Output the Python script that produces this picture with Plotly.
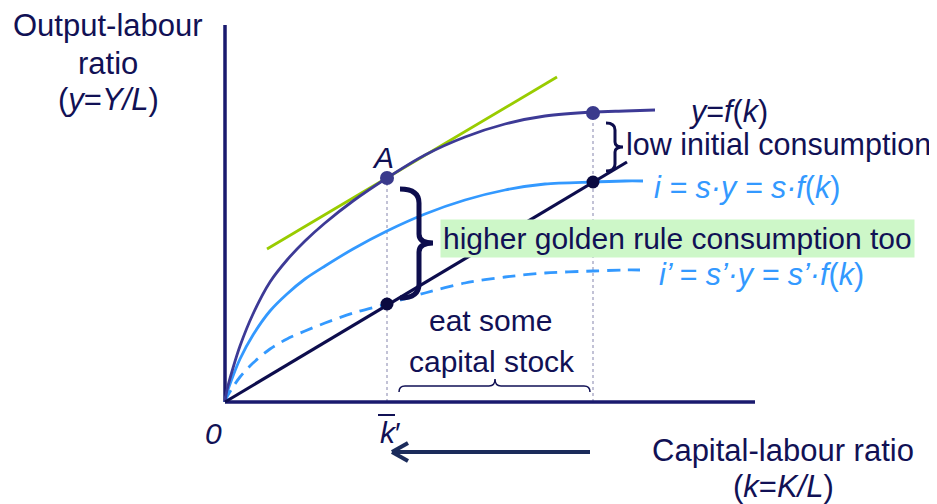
import plotly.graph_objects as go

# ---- data (k = capital-labour ratio, y = output-labour ratio) ----
f_k = [0, 0.02, 0.08, 0.15, 0.28, 0.45, 0.62, 0.80, 1.00, 1.28, 1.62, 2.00, 2.40, 2.80, 3.20, 3.68, 4.00, 4.30]
f_y = [0, 0.12, 0.34, 0.56, 0.88, 1.20, 1.42, 1.61, 1.79, 2.01, 2.24, 2.47, 2.65, 2.78, 2.86, 2.90, 2.91, 2.92]

i_k = [0, 0.02, 0.08, 0.15, 0.28, 0.45, 0.62, 0.80, 1.00, 1.28, 1.62, 2.00, 2.40, 2.80, 3.20, 3.68, 4.00, 4.18]
i_y = [0, 0.09, 0.26, 0.43, 0.67, 0.91, 1.08, 1.23, 1.36, 1.53, 1.71, 1.88, 2.02, 2.12, 2.18, 2.20, 2.21, 2.21]

ip_k = [0, 0.02, 0.08, 0.15, 0.28, 0.45, 0.62, 0.80, 1.00, 1.28, 1.62, 2.00, 2.40, 2.80, 3.20, 3.68, 4.00, 4.15]
ip_y = [0, 0.05, 0.15, 0.25, 0.39, 0.53, 0.63, 0.71, 0.79, 0.89, 0.98, 1.09, 1.19, 1.25, 1.29, 1.31, 1.32, 1.32]

dep_k = [0, 4.02]
dep_y = [0, 2.40]

tan_k = [0.42, 3.32]
tan_y = [1.53, 3.25]

pt_k = [1.62, 3.68]
pt_upper = [2.24, 2.89]
pt_lower = [0.98, 2.20]

axis_x_end = 5.30
axis_y_end = 3.77

NAVY = "#111155"
AXIS = "#1a1a6e"
PURPLE = "#3d3a96"
BLUE = "#3399ff"
DARK = "#0d0d4d"
GREEN = "#99cc00"
FONT = "Liberation Sans, Arial, sans-serif"

fig = go.Figure()

# dotted guide lines
for kk, yy in zip(pt_k, pt_upper):
    fig.add_trace(go.Scatter(x=[kk, kk], y=[0, yy], mode="lines",
                             line=dict(color="#9a9abb", width=1.2, dash="dot"),
                             hoverinfo="skip"))

# axes
fig.add_trace(go.Scatter(x=[0, 0], y=[axis_y_end, 0], mode="lines",
                         line=dict(color=AXIS, width=3.5), hoverinfo="skip"))
fig.add_trace(go.Scatter(x=[0, axis_x_end], y=[0, 0], mode="lines",
                         line=dict(color=AXIS, width=3.5), hoverinfo="skip"))

# curves
fig.add_trace(go.Scatter(x=tan_k, y=tan_y, mode="lines",
                         line=dict(color=GREEN, width=2.8)))
fig.add_trace(go.Scatter(x=ip_k, y=ip_y, mode="lines",
                         line=dict(color=BLUE, width=2.8, dash="13px,8px", shape="spline", smoothing=0.8)))
fig.add_trace(go.Scatter(x=i_k, y=i_y, mode="lines",
                         line=dict(color=BLUE, width=2.8, shape="spline", smoothing=0.8)))
fig.add_trace(go.Scatter(x=f_k, y=f_y, mode="lines",
                         line=dict(color=PURPLE, width=2.8, shape="spline", smoothing=0.8)))
fig.add_trace(go.Scatter(x=dep_k, y=dep_y, mode="lines",
                         line=dict(color=DARK, width=3.2)))

# points
fig.add_trace(go.Scatter(x=pt_k, y=pt_upper, mode="markers",
                         marker=dict(color="#3a3a8c", size=14)))
fig.add_trace(go.Scatter(x=pt_k, y=pt_lower, mode="markers",
                         marker=dict(color="#0a0a40", size=13)))
# small red speck
fig.add_trace(go.Scatter(x=[4.26], y=[1.59], mode="markers",
                         marker=dict(color="#e03030", size=4)))

shapes = []
# big vertical brace
a, xm, b = 1.75, 1.94, 2.08
T, M, B = 2.13, 1.59, 1.04
shapes.append(dict(type="path", xref="x", yref="y",
                   path=(f"M {a},{T} Q {xm},{T} {xm},{T-0.14} L {xm},{M+0.09} "
                         f"Q {xm},{M} {b},{M} Q {xm},{M} {xm},{M-0.09} "
                         f"L {xm},{B+0.14} Q {xm},{B} {a},{B}"),
                   line=dict(color=DARK, width=5)))
# small vertical brace
a, xm, b = 3.81, 3.90, 3.98
T, M, B = 2.79, 2.55, 2.31
shapes.append(dict(type="path", xref="x", yref="y",
                   path=(f"M {a},{T} Q {xm},{T} {xm},{T-0.07} L {xm},{M+0.05} "
                         f"Q {xm},{M} {b},{M} Q {xm},{M} {xm},{M-0.05} "
                         f"L {xm},{B+0.07} Q {xm},{B} {a},{B}"),
                   line=dict(color=DARK, width=3)))
# horizontal brace under "capital stock"
l, r, c = 1.74, 3.65, 2.70
yl, yb, yt = 0.16, 0.10, 0.23
shapes.append(dict(type="path", xref="x", yref="y",
                   path=(f"M {l},{yb} Q {l},{yl} {l+0.06},{yl} L {c-0.06},{yl} "
                         f"Q {c},{yl} {c},{yt} Q {c},{yl} {c+0.06},{yl} "
                         f"L {r-0.06},{yl} Q {r},{yl} {r},{yb}"),
                   line=dict(color=NAVY, width=1.5)))
# bar over k'
shapes.append(dict(type="line", xref="x", yref="y", x0=1.53, x1=1.70, y0=-0.13, y1=-0.13,
                   line=dict(color=NAVY, width=2)))
# arrow (leftward)
ARROW = "#1b2b5b"
shapes.append(dict(type="line", xref="x", yref="y", x0=3.65, x1=1.69, y0=-0.50, y1=-0.50,
                   line=dict(color=ARROW, width=4)))
shapes.append(dict(type="line", xref="x", yref="y", x0=1.67, x1=1.83, y0=-0.50, y1=-0.41,
                   line=dict(color=ARROW, width=4)))
shapes.append(dict(type="line", xref="x", yref="y", x0=1.67, x1=1.83, y0=-0.50, y1=-0.59,
                   line=dict(color=ARROW, width=4)))

ann = []
def txt(x, y, s, color=NAVY, size=31, xanchor="center", **kw):
    ann.append(dict(x=x, y=y, xref="x", yref="y", text=s, showarrow=False,
                    xanchor=xanchor, yanchor="middle",
                    font=dict(family=FONT, size=size, color=color), **kw))

# y-axis title (three lines)
txt(-1.17, 3.765, "Output-labour")
txt(-1.17, 3.385, "ratio")
txt(-1.17, 3.025, "(<i>y</i>=<i>Y/L</i>)")
# x-axis title (two lines)
txt(5.58, -0.485, "Capital-labour ratio")
txt(5.58, -0.845, "(<i>k</i>=<i>K/L</i>)")

txt(4.62, 2.905, "<i>y</i>=<i>f</i>(<i>k</i>)", size=30.5, xanchor="left")
txt(3.99, 2.575, "low initial consumption", size=30.5, xanchor="left")
txt(4.27, 2.145, "<i>i = s·y = s·f</i>(<i>k</i>)", size=30.5, color=BLUE, xanchor="left")
txt(2.15, 1.64, "higher golden rule consumption too", size=30, xanchor="left",
    bgcolor="#cdf7c8", borderpad=2)
txt(4.32, 1.275, "<i>i’ = s’·y = s’·f</i>(<i>k</i>)", size=30.5, color=BLUE, xanchor="left")
txt(1.58, 2.45, "<i>A</i>", size=30)
txt(2.65, 0.82, "eat some", size=30)
txt(2.67, 0.41, "capital stock", size=30)
txt(-0.12, -0.31, "<i>0</i>", size=30)
txt(1.65, -0.30, "<i>k</i>′", size=30)

# the page body adds an 8px margin, so the figure is 8px smaller and the ranges are shifted
fig.update_layout(
    width=929, height=496,
    margin=dict(l=0, r=0, t=0, b=0),
    paper_bgcolor="white", plot_bgcolor="white",
    showlegend=False,
    font=dict(family=FONT),
    xaxis=dict(range=[-2.17, 7.12], visible=False, fixedrange=True),
    yaxis=dict(range=[-1.02, 3.94], visible=False, fixedrange=True),
    shapes=shapes,
    annotations=ann,
)

fig.write_html("out.html")
